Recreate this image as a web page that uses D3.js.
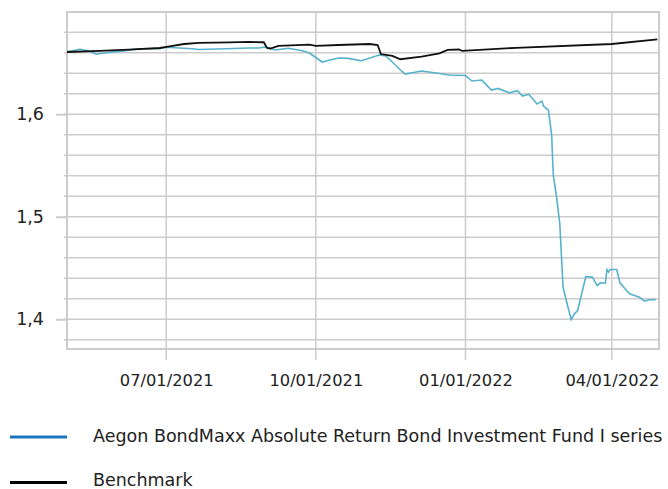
<!DOCTYPE html>
<html>
<head>
<meta charset="utf-8">
<script src="https://cdn.jsdelivr.net/npm/d3@7"></script>
<style>
  body { margin: 0; background: #fff; }
  text { font-family: "DejaVu Sans", sans-serif; fill: #222; }
</style>
</head>
<body>
<div id="chart"></div>
<script>
// fund series (date, value)
const fundDates = ['2021-05-01','2021-05-09','2021-05-14','2021-05-19','2021-05-25','2021-06-06','2021-06-14','2021-06-27','2021-07-01','2021-07-17','2021-07-21','2021-08-06','2021-08-21','2021-08-27','2021-08-31','2021-09-06','2021-09-14','2021-09-22','2021-09-27','2021-10-05','2021-10-09','2021-10-15','2021-10-21','2021-10-29','2021-11-09','2021-11-13','2021-11-17','2021-11-22','2021-11-25','2021-12-05','2021-12-14','2021-12-22','2022-01-01','2022-01-05','2022-01-11','2022-01-17','2022-01-21','2022-01-28','2022-02-02','2022-02-05','2022-02-09','2022-02-14','2022-02-17','2022-02-18','2022-02-21','2022-02-22','2022-02-23','2022-02-24','2022-02-26','2022-02-28','2022-03-02','2022-03-04','2022-03-07','2022-03-09','2022-03-11','2022-03-16','2022-03-20','2022-03-23','2022-03-25','2022-03-28','2022-03-29','2022-03-30','2022-03-31','2022-04-04','2022-04-06','2022-04-10','2022-04-12','2022-04-18','2022-04-21','2022-04-24','2022-04-28'];
const fundValues = [1.6610,1.6633,1.6620,1.6585,1.6600,1.6620,1.6639,1.6639,1.6653,1.6639,1.6631,1.6639,1.6646,1.6646,1.6656,1.6627,1.6643,1.6622,1.6597,1.6509,1.6526,1.6548,1.6545,1.6522,1.6578,1.6568,1.6509,1.6431,1.6392,1.6421,1.6402,1.6382,1.6377,1.6324,1.6333,1.6236,1.6252,1.6209,1.6229,1.6177,1.6194,1.6099,1.6128,1.6079,1.6040,1.5923,1.5796,1.5405,1.5193,1.4933,1.4313,1.4183,1.3996,1.4053,1.4085,1.4417,1.4411,1.4329,1.4356,1.4352,1.4483,1.4460,1.4486,1.4486,1.4356,1.4281,1.4249,1.4216,1.4176,1.4190,1.4190];

// benchmark series
const benchDates = ['2021-05-01','2021-05-21','2021-06-08','2021-06-27','2021-07-03','2021-07-12','2021-07-21','2021-08-09','2021-08-21','2021-08-30','2021-09-01','2021-09-03','2021-09-08','2021-09-27','2021-10-01','2021-10-15','2021-11-03','2021-11-08','2021-11-10','2021-11-17','2021-11-22','2021-12-05','2021-12-16','2021-12-21','2021-12-28','2021-12-30','2022-02-01','2022-04-01','2022-04-29'];
const benchValues = [1.6607,1.6617,1.6631,1.6646,1.6661,1.6685,1.6695,1.6700,1.6705,1.6702,1.6646,1.6641,1.6666,1.6678,1.6666,1.6675,1.6685,1.6675,1.6587,1.6568,1.6536,1.6561,1.6594,1.6627,1.6631,1.6617,1.6648,1.6685,1.6731];

const xTicks = ['2021-07-01','2021-10-01','2022-01-01','2022-04-01'];
const yMajor = [1.4, 1.5, 1.6];
const yMinor = [1.38, 1.40, 1.42, 1.44, 1.46, 1.48, 1.50, 1.52, 1.54, 1.56, 1.58, 1.60, 1.62, 1.64, 1.66, 1.68];

const seriesNames = ['Aegon BondMaxx Absolute Return Bond Investment Fund I series', 'Benchmark'];

const W = 668, H = 489;
const margin = { top: 12, right: 9, bottom: 140, left: 67 };
const width = W - margin.left - margin.right;
const height = H - margin.top - margin.bottom;

const parse = d3.utcParse('%Y-%m-%d');
const fmt = d3.utcFormat('%m/%d/%Y');

const svg = d3.select('#chart').append('svg')
  .attr('width', W).attr('height', H);
const g = svg.append('g').attr('transform', `translate(${margin.left},${margin.top})`);

const x = d3.scaleUtc()
  .domain([parse('2021-05-01'), parse('2022-04-30')])
  .range([0, width]);
const y = d3.scaleLinear().domain([1.371, 1.6997]).range([height, 0]);

const grid = '#cccccc';

// horizontal grid
g.append('g')
  .selectAll('line').data(yMinor).join('line')
  .attr('x1', -3).attr('x2', width)
  .attr('y1', d => y(d)).attr('y2', d => y(d))
  .attr('stroke', grid).attr('stroke-width', 1.5);

// vertical grid
g.append('g')
  .selectAll('line').data(xTicks).join('line')
  .attr('x1', d => x(parse(d))).attr('x2', d => x(parse(d)))
  .attr('y1', 0).attr('y2', height + 11)
  .attr('stroke', grid).attr('stroke-width', 1.5);

// frame
g.append('rect')
  .attr('x', 0).attr('y', 0).attr('width', width).attr('height', height)
  .attr('fill', 'none').attr('stroke', grid).attr('stroke-width', 2);

// y axis
const yAxis = g.append('g')
  .call(d3.axisLeft(y).tickValues(yMajor).tickSize(11).tickPadding(12)
    .tickFormat(d => d3.format('.1f')(d).replace('.', ',')));
yAxis.select('.domain').remove();
yAxis.selectAll('line').attr('stroke', grid).attr('stroke-width', 2);
yAxis.selectAll('text').style('font-size', '17.5px').attr('fill', '#222');

// x axis labels
const xAxis = g.append('g').attr('transform', `translate(0,${height})`)
  .call(d3.axisBottom(x).tickValues(xTicks.map(parse)).tickSize(0).tickPadding(25).tickFormat(fmt));
xAxis.select('.domain').remove();
xAxis.selectAll('text').style('font-size', '16.3px').attr('fill', '#222');

const line = d3.line().x(d => x(d[0])).y(d => y(d[1]));

const fund = fundDates.map((d, i) => [parse(d), fundValues[i]]);
const bench = benchDates.map((d, i) => [parse(d), benchValues[i]]);

g.append('path').datum(fund)
  .attr('d', line).attr('fill', 'none')
  .attr('stroke', '#56b2cc').attr('stroke-width', 1.6);

g.append('path').datum(bench)
  .attr('d', line).attr('fill', 'none')
  .attr('stroke', '#111').attr('stroke-width', 1.8);

// legend
const legend = svg.append('g');
const legendColors = ['#1b75bb', '#000000'];
const swatchY = [437, 482.5];
const labelY = [435.5, 479.5];
seriesNames.forEach((name, i) => {
  legend.append('line')
    .attr('x1', 10).attr('x2', 67).attr('y1', swatchY[i]).attr('y2', swatchY[i])
    .attr('stroke', legendColors[i]).attr('stroke-width', 3);
  legend.append('text')
    .attr('x', 93).attr('y', labelY[i]).attr('dy', '0.35em')
    .style('font-size', '17.5px').text(name);
});
</script>
</body>
</html>
